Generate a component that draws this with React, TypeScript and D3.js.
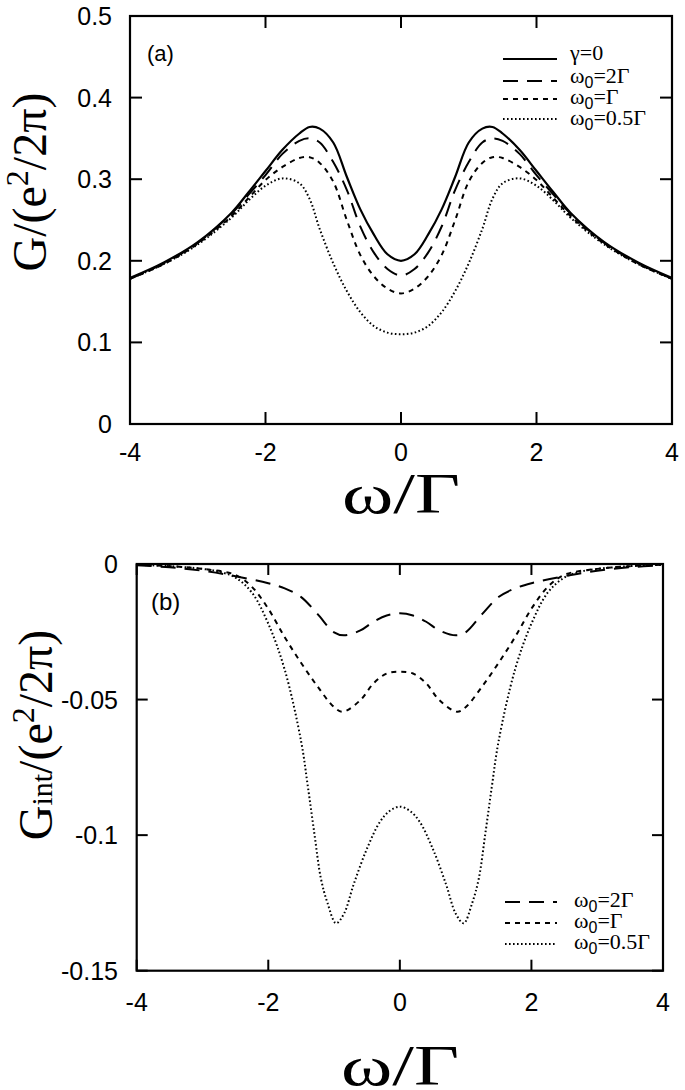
import React from "react";
import * as d3 from "d3";

// ---------- data (panel a) ----------
const xA = [-4, -3.5, -3, -2.5, -2.25, -2, -1.75, -1.5, -1.35, -1.2, -1, -0.8, -0.6, -0.4, -0.2, 0,
  0.2, 0.4, 0.6, 0.8, 1, 1.2, 1.35, 1.5, 1.75, 2, 2.25, 2.5, 3, 3.5, 4];
const gGamma0 = [0.179, 0.198, 0.223, 0.259, 0.284, 0.310, 0.336, 0.356, 0.364, 0.362, 0.345, 0.303, 0.263, 0.232, 0.208, 0.200,
  0.208, 0.232, 0.263, 0.303, 0.345, 0.362, 0.364, 0.356, 0.336, 0.310, 0.284, 0.259, 0.223, 0.198, 0.179];
const gW2 = [0.178, 0.197, 0.222, 0.258, 0.281, 0.305, 0.331, 0.347, 0.350, 0.345, 0.321, 0.287, 0.242, 0.210, 0.190, 0.182,
  0.190, 0.210, 0.242, 0.287, 0.321, 0.345, 0.350, 0.347, 0.331, 0.305, 0.281, 0.258, 0.222, 0.197, 0.178];
const gW1 = [0.178, 0.196, 0.221, 0.255, 0.277, 0.299, 0.315, 0.326, 0.327, 0.320, 0.297, 0.250, 0.207, 0.181, 0.166, 0.160,
  0.166, 0.181, 0.207, 0.250, 0.297, 0.320, 0.327, 0.326, 0.315, 0.299, 0.277, 0.255, 0.221, 0.196, 0.178];
const gW05 = [0.178, 0.196, 0.220, 0.253, 0.274, 0.292, 0.301, 0.295, 0.276, 0.239, 0.197, 0.163, 0.137, 0.120, 0.112, 0.110,
  0.112, 0.120, 0.137, 0.163, 0.197, 0.239, 0.276, 0.295, 0.301, 0.292, 0.274, 0.253, 0.220, 0.196, 0.178];

// ---------- data (panel b) ----------
const xB2 = [-4, -3.5, -3, -2.5, -2, -1.75, -1.5, -1.25, -1, -0.85, -0.6, -0.4, -0.2, 0,
  0.2, 0.4, 0.6, 0.85, 1, 1.25, 1.5, 1.75, 2, 2.5, 3, 3.5, 4];
const gIntW2 = [-0.0005, -0.0012, -0.0025, -0.0045, -0.0071, -0.0090, -0.0122, -0.0185, -0.0252, -0.0263, -0.0245, -0.0213, -0.0190, -0.0182,
  -0.0190, -0.0213, -0.0245, -0.0263, -0.0252, -0.0185, -0.0122, -0.0090, -0.0071, -0.0045, -0.0025, -0.0012, -0.0005];
const xB1 = [-4, -3.5, -3, -2.5, -2.25, -2, -1.75, -1.5, -1.25, -1, -0.87, -0.6, -0.4, -0.2, 0,
  0.2, 0.4, 0.6, 0.87, 1, 1.25, 1.5, 1.75, 2, 2.25, 2.5, 3, 3.5, 4];
const gIntW1 = [-0.0003, -0.0008, -0.0018, -0.0040, -0.0084, -0.0165, -0.0270, -0.0365, -0.0452, -0.0528, -0.0545, -0.0502, -0.0440, -0.0404, -0.0397,
  -0.0404, -0.0440, -0.0502, -0.0545, -0.0528, -0.0452, -0.0365, -0.0270, -0.0165, -0.0084, -0.0040, -0.0018, -0.0008, -0.0003];
const xB05 = [-4, -3.5, -3, -2.75, -2.5, -2.25, -2, -1.75, -1.5, -1.4, -1.3, -1.2, -1.1, -0.97, -0.85, -0.7, -0.5, -0.3, -0.15, 0,
  0.15, 0.3, 0.5, 0.7, 0.85, 0.97, 1.1, 1.2, 1.3, 1.4, 1.5, 1.75, 2, 2.25, 2.5, 2.75, 3, 3.5, 4];
const gIntW05 = [-0.0003, -0.0008, -0.0018, -0.0028, -0.0050, -0.0105, -0.0220, -0.0390, -0.0655, -0.0818, -0.0993, -0.1160, -0.1250, -0.1325, -0.1290, -0.1180, -0.1050, -0.0950, -0.0910, -0.0895,
  -0.0910, -0.0950, -0.1050, -0.1180, -0.1290, -0.1325, -0.1250, -0.1160, -0.0993, -0.0818, -0.0655, -0.0390, -0.0220, -0.0105, -0.0050, -0.0028, -0.0018, -0.0008, -0.0003];

const xTicks = [-4, -2, 0, 2, 4];
const yTicksA = [0, 0.1, 0.2, 0.3, 0.4, 0.5];
const yTickLabelsA = ["0", "0.1", "0.2", "0.3", "0.4", "0.5"];
const yTicksB = [0, -0.05, -0.1, -0.15];
const yTickLabelsB = ["0", "-0.05", "-0.1", "-0.15"];

const SANS = "'Liberation Sans', Arial, Helvetica, sans-serif";
const SERIF = "'Liberation Serif', 'Times New Roman', serif";

const DASH_LONG = "15,9";
const DASH_SHORT = "5,5";
const DASH_DOT = "1.6,2.4";

function Omega0({ x, y, rest }: { x: number; y: number; rest: string }) {
  return (
    <text x={x} y={y}>
      ω<tspan fontFamily={SANS} fontSize={16} dy={5}>0</tspan>
      <tspan dy={-5}>{rest}</tspan>
    </text>
  );
}

export default function App() {
  // panel a scales
  const xa = d3.scaleLinear().domain([-4, 4]).range([130, 672]);
  const ya = d3.scaleLinear().domain([0, 0.5]).range([424, 16]);
  // panel b scales
  const xb = d3.scaleLinear().domain([-4, 4]).range([136.7, 663]);
  const yb = d3.scaleLinear().domain([-0.15, 0]).range([970.7, 564]);

  const lineA = (ys: number[]) =>
    d3.line<number>().x((_, i) => xa(xA[i])).y((v) => ya(v)).curve(d3.curveCatmullRom.alpha(0.5))(ys) || "";
  const lineB = (xs: number[], ys: number[]) =>
    d3.line<number>().x((_, i) => xb(xs[i])).y((v) => yb(v)).curve(d3.curveCatmullRom.alpha(0.5))(ys) || "";

  const tickLen = 12;

  return (
    <svg width={685} height={1090} style={{ position: "absolute", left: 0, top: 0, background: "#fff" }}>
      <rect x={0} y={0} width={685} height={1090} fill="#fff" />
      {/* ===== Panel (a) ===== */}
      <g>
        <clipPath id="clipA">
          <rect x={xa(-4)} y={ya(0.5)} width={xa(4) - xa(-4)} height={ya(0) - ya(0.5)} />
        </clipPath>
        <g clipPath="url(#clipA)" fill="none" stroke="#000">
          <path d={lineA(gGamma0)} strokeWidth={2.2} />
          <path d={lineA(gW2)} strokeWidth={2} strokeDasharray={DASH_LONG} />
          <path d={lineA(gW1)} strokeWidth={2} strokeDasharray={DASH_SHORT} />
          <path d={lineA(gW05)} strokeWidth={2} strokeDasharray={DASH_DOT} />
        </g>
        <g stroke="#000" strokeWidth={2}>
          {xTicks.map((t) => (
            <g key={"xa" + t}>
              <line x1={xa(t)} x2={xa(t)} y1={ya(0)} y2={ya(0) - tickLen} />
              <line x1={xa(t)} x2={xa(t)} y1={ya(0.5)} y2={ya(0.5) + tickLen} />
            </g>
          ))}
          {yTicksA.map((t) => (
            <g key={"ya" + t}>
              <line x1={xa(-4)} x2={xa(-4) + tickLen} y1={ya(t)} y2={ya(t)} />
              <line x1={xa(4)} x2={xa(4) - tickLen} y1={ya(t)} y2={ya(t)} />
            </g>
          ))}
        </g>
        <rect x={xa(-4)} y={ya(0.5)} width={xa(4) - xa(-4)} height={ya(0) - ya(0.5)} fill="none" stroke="#000" strokeWidth={2.2} />
        <g fontFamily={SANS} fontSize={25} fill="#000">
          {yTicksA.map((t, i) => (
            <text key={"yla" + t} x={112} y={ya(t) + 9} textAnchor="end">{yTickLabelsA[i]}</text>
          ))}
          {xTicks.map((t) => (
            <text key={"xla" + t} x={xa(t)} y={461} textAnchor="middle">{String(t)}</text>
          ))}
        </g>
        <text x={147} y={61} fontFamily={SANS} fontSize={22}>(a)</text>
        <g stroke="#000" strokeWidth={2} fill="none">
          <line x1={503} x2={557} y1={59} y2={59} strokeWidth={2.2} />
          <line x1={503} x2={557} y1={81} y2={81} strokeDasharray={DASH_LONG} />
          <line x1={503} x2={557} y1={99} y2={99} strokeDasharray={DASH_SHORT} />
          <line x1={503} x2={557} y1={119} y2={119} strokeDasharray={DASH_DOT} />
        </g>
        <g fontFamily={SERIF} fontSize={22} fill="#000">
          <text x={570} y={60}>γ=0</text>
          <Omega0 x={570} y={83} rest="=2Γ" />
          <Omega0 x={570} y={104} rest="=Γ" />
          <Omega0 x={570} y={125} rest="=0.5Γ" />
        </g>
        <text x={401} y={513} textAnchor="middle" fontFamily={SERIF} fontSize={56} textLength={118} lengthAdjust="spacingAndGlyphs">ω/Γ</text>
        <text transform="translate(46,182) rotate(-90)" textAnchor="middle" fontFamily={SERIF} fontSize={48}>
          G/(e<tspan fontSize={32} dy={-18}>2</tspan><tspan dy={18}>/2π)</tspan>
        </text>
      </g>

      {/* ===== Panel (b) ===== */}
      <g>
        <clipPath id="clipB">
          <rect x={xb(-4)} y={yb(0) - 2} width={xb(4) - xb(-4)} height={yb(-0.15) - yb(0) + 2} />
        </clipPath>
        <g clipPath="url(#clipB)" fill="none" stroke="#000">
          <path d={lineB(xB2, gIntW2)} strokeWidth={2} strokeDasharray={DASH_LONG} />
          <path d={lineB(xB1, gIntW1)} strokeWidth={2} strokeDasharray={DASH_SHORT} />
          <path d={lineB(xB05, gIntW05)} strokeWidth={2} strokeDasharray={DASH_DOT} />
        </g>
        <g stroke="#000" strokeWidth={2}>
          {xTicks.map((t) => (
            <g key={"xb" + t}>
              <line x1={xb(t)} x2={xb(t)} y1={yb(-0.15)} y2={yb(-0.15) - 11} />
              <line x1={xb(t)} x2={xb(t)} y1={yb(0)} y2={yb(0) + 11} />
            </g>
          ))}
          {yTicksB.map((t) => (
            <g key={"yb" + t}>
              <line x1={xb(-4)} x2={xb(-4) + 11} y1={yb(t)} y2={yb(t)} />
              <line x1={xb(4)} x2={xb(4) - 11} y1={yb(t)} y2={yb(t)} />
            </g>
          ))}
        </g>
        <rect x={xb(-4)} y={yb(0)} width={xb(4) - xb(-4)} height={yb(-0.15) - yb(0)} fill="none" stroke="#000" strokeWidth={2.2} />
        <g fontFamily={SANS} fontSize={25} fill="#000">
          {yTicksB.map((t, i) => (
            <text key={"ylb" + t} x={118} y={yb(t) + 9} textAnchor="end">{yTickLabelsB[i]}</text>
          ))}
          {xTicks.map((t) => (
            <text key={"xlb" + t} x={xb(t)} y={1011} textAnchor="middle">{String(t)}</text>
          ))}
        </g>
        <text x={151} y={610} fontFamily={SANS} fontSize={24}>(b)</text>
        <g stroke="#000" strokeWidth={2} fill="none">
          <line x1={505} x2={557} y1={902} y2={902} strokeDasharray={DASH_LONG} />
          <line x1={505} x2={557} y1={923} y2={923} strokeDasharray={DASH_SHORT} />
          <line x1={505} x2={557} y1={944} y2={944} strokeDasharray={DASH_DOT} />
        </g>
        <g fontFamily={SERIF} fontSize={22} fill="#000">
          <Omega0 x={574} y={907} rest="=2Γ" />
          <Omega0 x={574} y={928} rest="=Γ" />
          <Omega0 x={574} y={949} rest="=0.5Γ" />
        </g>
        <text x={400} y={1085} textAnchor="middle" fontFamily={SERIF} fontSize={56} textLength={118} lengthAdjust="spacingAndGlyphs">ω/Γ</text>
        <text transform="translate(52,735) rotate(-90)" textAnchor="middle" fontFamily={SERIF} fontSize={48}>
          G<tspan fontSize={30}>int</tspan>/(e<tspan fontSize={32} dy={-18}>2</tspan><tspan dy={18}>/2π)</tspan>
        </text>
      </g>
    </svg>
  );
}
